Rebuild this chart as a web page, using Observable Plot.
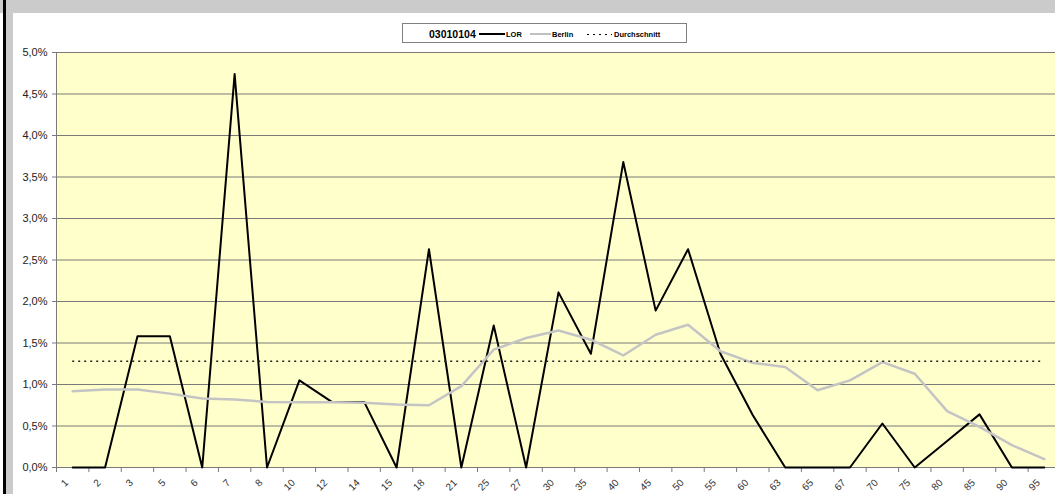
<!DOCTYPE html>
<html>
<head>
<meta charset="utf-8">
<script src="https://cdn.jsdelivr.net/npm/d3@7"></script>
<script src="https://cdn.jsdelivr.net/npm/@observablehq/plot@0.6"></script>
<style>
  html, body { margin: 0; padding: 0; overflow: hidden; background: #fff; }
  #wrap { position: relative; width: 1055px; height: 494px; overflow: hidden; background: #fff; font-family: "Liberation Sans", Arial, sans-serif; }
  .deco { position: absolute; }
  #legendArea { position: relative; height: 45px; }
  #legend { position: absolute; left: 402px; top: 23px; width: 285px; height: 20px; box-sizing: border-box; border: 1px solid #808080; background: #fff; }
  #legend span { position: absolute; top: 1px; line-height: 19px; font-weight: bold; color: #000; white-space: nowrap; }
  #legend .sw { position: absolute; }
</style>
</head>
<body>
<div id="wrap">
  <div id="legendArea">
    <div id="legend">
      <span style="left:26px;font-size:10.5px;">03010104</span>
      <div class="sw" style="left:76px;top:9px;width:26px;height:2px;background:#000;"></div>
      <span style="left:103px;font-size:7.5px;">LOR</span>
      <div class="sw" style="left:127px;top:9px;width:21px;height:2px;background:#c0c0c0;"></div>
      <span style="left:149px;font-size:7.5px;">Berlin</span>
      <div class="sw" style="left:184px;top:9.5px;width:25px;height:1.5px;background:repeating-linear-gradient(to right,#000 0 2px,transparent 2px 6px);"></div>
      <span style="left:211px;font-size:7.5px;">Durchschnitt</span>
    </div>
  </div>
  <div id="chart"></div>
  <div class="deco" style="left:0;top:0;width:1055px;height:13px;background:#cbcbcb;"></div>
  <div class="deco" style="left:6px;top:0;width:7px;height:494px;background:#cbcbcb;"></div>
  <div class="deco" style="left:3px;top:0;width:3px;height:494px;background:#000;"></div>
</div>
<script>
// Age categories (x axis)
const categories = ["1","2","3","5","6","7","8","10","12","14","15","18","21","25","27","30","35","40","45","50","55","60","63","65","67","70","75","80","85","90","95"];
// LOR series (percent)
const lor = [0,0,1.58,1.58,0,4.74,0,1.05,0.79,0.79,0,2.63,0,1.71,0,2.11,1.37,3.68,1.89,2.63,1.37,0.63,0,0,0,0.53,0,0.32,0.64,0,0];
// Berlin series (percent)
const berlin = [0.92,0.94,0.94,0.89,0.83,0.82,0.79,0.785,0.785,0.78,0.76,0.75,0.98,1.42,1.56,1.65,1.54,1.35,1.60,1.72,1.40,1.26,1.21,0.93,1.05,1.27,1.13,0.68,0.49,0.27,0.10];
// Average (percent)
const durchschnitt = 1.28;
// Y tick values (percent)
const yTicks = [0,0.5,1,1.5,2,2.5,3,3.5,4,4.5,5];

const data = categories.map((c, i) => ({pos: i + 0.5, cat: c, lor: lor[i], berlin: berlin[i]}));
const boundaries = d3.range(categories.length + 1);
const fmt = d => d.toFixed(1).replace(".", ",") + "%";

const chart = Plot.plot({
  width: 1055,
  height: 449,
  marginLeft: 56,
  marginRight: -5,
  marginTop: 7,
  marginBottom: 27,
  style: {fontFamily: "'Liberation Sans', Arial, sans-serif", fontSize: "11px", background: "transparent", color: "#222"},
  x: {domain: [0, categories.length], axis: null},
  y: {domain: [0, 5], axis: null},
  marks: [
    Plot.frame({fill: "#FFFFCC", stroke: null}),
    Plot.gridY(yTicks, {stroke: "#7a7a7a", strokeOpacity: 1}),
    Plot.ruleX([0], {stroke: "#7a7a7a"}),
    Plot.axisY({ticks: yTicks, tickFormat: fmt, tickSize: 4, tickPadding: 5, stroke: "#7a7a7a", fill: "#222", label: null}),
    Plot.axisX({ticks: boundaries, tickFormat: () => "", tickSize: 5, stroke: "#7a7a7a", label: null}),
    Plot.text(data, {x: "pos", y: () => 0, text: "cat", rotate: -45, textAnchor: "end", dx: -6, dy: 13.5, fontSize: 10, fill: "#333"}),
    Plot.line(data, {x: "pos", y: "lor", stroke: "#000", strokeWidth: 2}),
    Plot.line(data, {x: "pos", y: "berlin", stroke: "#c4c4c4", strokeWidth: 2.5}),
    Plot.ruleY([durchschnitt], {x1: data[0].pos, x2: data[data.length - 1].pos, stroke: "#222", strokeWidth: 1.5, strokeDasharray: "2,4"})
  ]
});
document.getElementById("chart").appendChild(chart);
</script>
</body>
</html>
